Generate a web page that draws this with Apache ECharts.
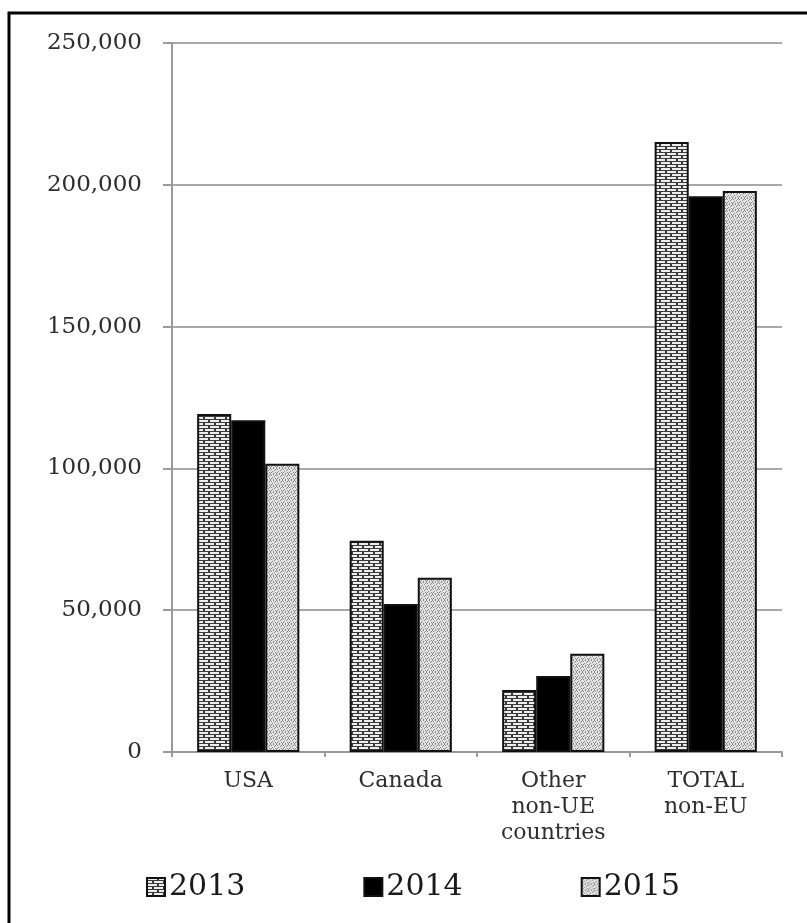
<!DOCTYPE html>
<html>
<head>
<meta charset="utf-8">
<script src="https://cdn.jsdelivr.net/npm/echarts@6/dist/echarts.min.js"></script>
<style>
html,body{margin:0;padding:0;background:#fff;}
#main{width:807px;height:923px;}
</style>
</head>
<body>
<div id="main"></div>
<script>
var categories = ['USA', 'Canada', 'Other\nnon-UE\ncountries', 'TOTAL\nnon-EU'];
var years = ['2013', '2014', '2015'];
var values2013 = [119200, 74500, 21900, 215100];
var values2014 = [117000, 52200, 26800, 196000];
var values2015 = [101600, 61400, 34600, 197800];
var yTicks = [0, 50000, 100000, 150000, 200000, 250000];

function brickPattern() {
  var c = document.createElement('canvas');
  c.width = 11; c.height = 6;
  var g = c.getContext('2d');
  g.fillStyle = '#3a3a3a';
  g.fillRect(0, 0, 11, 6);
  g.fillStyle = '#eeeeee';
  g.fillRect(1, 0, 9, 2);
  g.fillRect(7, 3, 4, 2);
  g.fillRect(0, 3, 5, 2);
  return c;
}
function dotPattern() {
  var c = document.createElement('canvas');
  c.width = 6; c.height = 6;
  var g = c.getContext('2d');
  g.fillStyle = '#e2e2e2';
  g.fillRect(0, 0, 6, 6);
  g.fillStyle = '#8a8a8a';
  var pts = [[0,0],[1,1],[3,0],[4,2],[5,1],[2,3],[1,4],[3,5],[5,4],[0,5]];
  pts.forEach(function(p){ g.fillRect(p[0], p[1], 1, 1); });
  return c;
}

var chart = echarts.init(document.getElementById('main'));
var fills = [
  {image: brickPattern(), repeat: 'repeat'},
  '#000000',
  {image: dotPattern(), repeat: 'repeat'}
];
var seriesData = [values2013, values2014, values2015];

var option = {
  backgroundColor: '#ffffff',
  animation: false,
  graphic: [{
    type: 'rect',
    shape: {x: 9, y: 13, width: 900, height: 1000},
    style: {fill: 'none', stroke: '#000', lineWidth: 3},
    silent: true
  }],
  grid: {left: 172, right: 25, top: 43, bottom: 171, containLabel: false},
  legend: {
    data: years,
    left: 141,
    top: 867,
    itemWidth: 18,
    itemHeight: 18,
    itemGap: 118,
    icon: 'rect',
    textStyle: {fontFamily: 'DejaVu Serif', fontSize: 30, color: '#1a1a1a', padding: [0, 0, 0, -1]}
  },
  xAxis: {
    type: 'category',
    data: categories,
    axisLine: {lineStyle: {color: '#9a9a9a', width: 2}},
    axisTick: {show: true, length: 5, lineStyle: {color: '#9a9a9a', width: 2}},
    axisLabel: {fontFamily: 'DejaVu Serif', fontSize: 22, color: '#2e2e2e', margin: 16, lineHeight: 26, interval: 0}
  },
  yAxis: {
    type: 'value',
    min: 0, max: 250000, interval: 50000,
    axisLine: {show: true, lineStyle: {color: '#9a9a9a', width: 2}},
    axisTick: {show: true, length: 9, lineStyle: {color: '#9a9a9a', width: 2}},
    splitLine: {lineStyle: {color: '#a8a8a8', width: 2}},
    axisLabel: {
      fontFamily: 'DejaVu Serif', fontSize: 23, color: '#2e2e2e', margin: 30,
      formatter: function(v){ return yTicks.indexOf(v) >= 0 ? v.toLocaleString('en-US') : ''; }
    }
  },
  series: years.map(function(y, i){
    return {
      name: y,
      type: 'bar',
      data: seriesData[i],
      barGap: '0%',
      barCategoryGap: '33%',
      itemStyle: {color: fills[i], borderColor: '#111', borderWidth: 2}
    };
  })
};
chart.setOption(option);
</script>
</body>
</html>
